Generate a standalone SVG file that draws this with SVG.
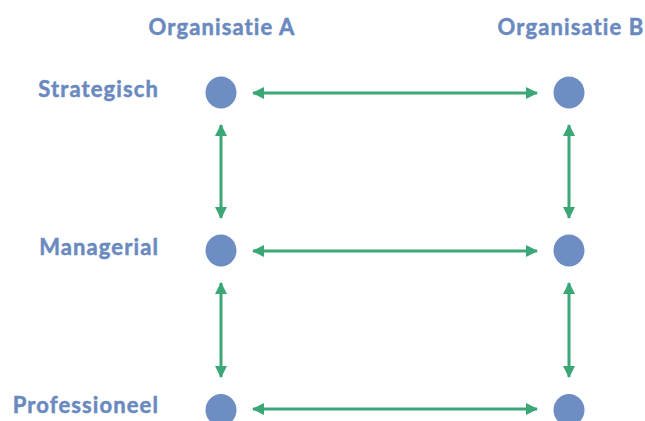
<svg xmlns="http://www.w3.org/2000/svg" width="645" height="421" viewBox="0 0 645 421">
<style>
.t{font-family:Lato,"Open Sans","Liberation Sans",sans-serif;font-weight:bold;font-size:22px;letter-spacing:1.1px;fill:#6a8abf;stroke:#6a8abf;stroke-width:0.5px}
.n{fill:#6d8dc3}
.c{stroke:#3ba776;stroke-width:3;fill:none;marker-start:url(#h);marker-end:url(#h)}
</style>
<defs>
<marker id="h" viewBox="0 0 12 12" refX="11" refY="6" markerWidth="12" markerHeight="12" markerUnits="userSpaceOnUse" orient="auto-start-reverse">
<path d="M0,0 L12,6 L0,12 Z" fill="#3ba776"/>
</marker>
</defs>
<rect width="645" height="421" fill="#ffffff"/>
<g id="headers">
<text class="t" x="222" y="35" text-anchor="middle">Organisatie A</text>
<text class="t" x="571" y="35" text-anchor="middle">Organisatie B</text>
</g>
<g id="labels">
<text class="t" x="159" y="97" text-anchor="end">Strategisch</text>
<text class="t" x="159" y="255" text-anchor="end">Managerial</text>
<text class="t" x="159" y="413" text-anchor="end">Professioneel</text>
</g>
<g id="nodeA1"><ellipse class="n" cx="221" cy="92.5" rx="15.5" ry="16"/></g>
<g id="nodeB1"><ellipse class="n" cx="569" cy="92.5" rx="15.5" ry="16"/></g>
<g id="nodeA2"><ellipse class="n" cx="221" cy="250.5" rx="15.5" ry="16"/></g>
<g id="nodeB2"><ellipse class="n" cx="569" cy="250.5" rx="15.5" ry="16"/></g>
<g id="nodeA3"><ellipse class="n" cx="221" cy="410" rx="15.5" ry="16"/></g>
<g id="nodeB3"><ellipse class="n" cx="569" cy="410" rx="15.5" ry="16"/></g>
<g id="connectors">
<line class="c" x1="253" y1="93" x2="537" y2="93"/>
<line class="c" x1="253" y1="251" x2="537" y2="251"/>
<line class="c" x1="253" y1="409" x2="537" y2="409"/>
<line class="c" x1="221" y1="125" x2="221" y2="218"/>
<line class="c" x1="569" y1="125" x2="569" y2="218"/>
<line class="c" x1="221" y1="283" x2="221" y2="377"/>
<line class="c" x1="569" y1="283" x2="569" y2="377"/>
</g>
</svg>
